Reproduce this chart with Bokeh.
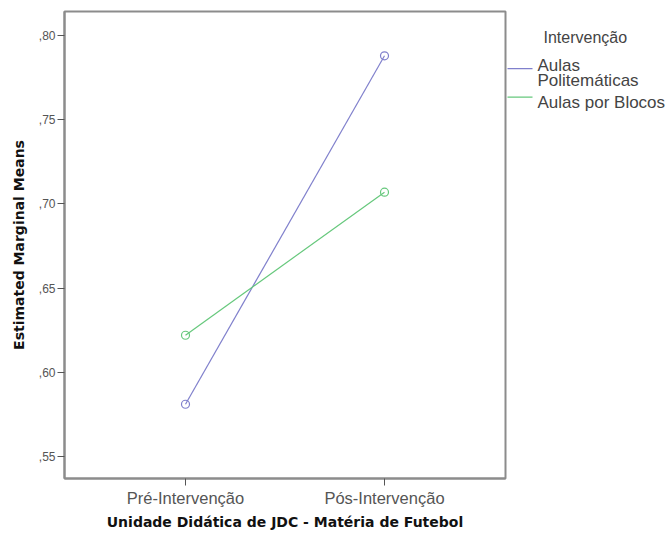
from bokeh.plotting import figure
from bokeh.models import Range1d, FixedTicker
from bokeh.layouts import row
from bokeh.core.properties import value
from bokeh.embed import file_html
from bokeh.resources import INLINE

categories = ["Pré-Intervenção", "Pós-Intervenção"]
politematicas = [0.581, 0.788]
blocos = [0.622, 0.707]
series_names = [["Aulas", "Politemáticas"], ["Aulas por Blocos"]]
series_colors = ["#8080cc", "#66c87c"]
y_ticks = [0.55, 0.60, 0.65, 0.70, 0.75, 0.80]
y_tick_labels = [",55", ",60", ",65", ",70", ",75", ",80"]
legend_title = "Intervenção"

H = 540
xs = list(range(len(categories)))

p = figure(width=507, height=H, output_backend="svg", toolbar_location=None,
           x_range=Range1d(-0.608, 1.608), y_range=Range1d(0.5369, 0.8143),
           min_border_left=64, min_border_top=11, min_border_right=2, min_border_bottom=62)
p.background_fill_color = "white"
p.border_fill_color = "white"
p.outline_line_color = "#8c8c8c"
p.outline_line_width = 2
p.xgrid.visible = False
p.ygrid.visible = False

for vals, col in zip([politematicas, blocos], series_colors):
    p.line(xs, vals, line_color=col, line_width=1.2)
    p.scatter(xs, vals, marker="circle", size=8, fill_color=None, line_color=col, line_width=1.2)

p.xaxis.ticker = FixedTicker(ticks=xs)
p.xaxis.major_label_overrides = {i: c for i, c in zip(xs, categories)}
p.yaxis.ticker = FixedTicker(ticks=y_ticks)
p.yaxis.major_label_overrides = {t: l for t, l in zip(y_ticks, y_tick_labels)}
for ax in (p.xaxis, p.yaxis):
    ax.axis_line_color = "#8c8c8c"
    ax.axis_line_width = 2
    ax.major_tick_line_color = "#555555"
    ax.major_tick_line_width = 1
    ax.major_tick_out = 7
    ax.major_tick_in = 0
    ax.minor_tick_line_color = None
    ax.major_label_text_font = "Liberation Sans"
    ax.major_label_text_color = "#555555"
    ax.axis_label_text_font = "DejaVu Sans"
    ax.axis_label_text_font_style = "bold"
    ax.axis_label_text_color = "#111111"
    ax.axis_label_text_font_size = "14px"
p.xaxis.major_label_text_font_size = "16.5px"
p.yaxis.major_label_text_font_size = "12px"
p.xaxis.major_label_standoff = 3
p.yaxis.major_label_standoff = 2
p.xaxis.axis_label = "Unidade Didática de JDC - Matéria de Futebol"
p.yaxis.axis_label = "Estimated Marginal Means"
p.xaxis.axis_label_standoff = 4
p.yaxis.axis_label_standoff = 9

# legend panel to the right of the frame (pixel coordinates, y downward)
lg = figure(width=160, height=H, output_backend="svg", toolbar_location=None,
            x_range=Range1d(0, 160), y_range=Range1d(H, 0),
            x_axis_location=None, y_axis_location=None,
            min_border_left=0, min_border_right=0, min_border_top=0, min_border_bottom=0)
lg.outline_line_color = None
lg.xgrid.visible = False
lg.ygrid.visible = False
lg.background_fill_color = "white"
lg.border_fill_color = "white"

lg.text([36], [30], text=[legend_title], text_font=value("Liberation Sans"),
        text_font_size="16px", text_color="#444444", text_baseline="middle")
line_y = [66, 99]
text_y = [[62, 80], [105]]
for names, col, ly, tys in zip(series_names, series_colors, line_y, text_y):
    lg.segment(x0=[-2], y0=[ly], x1=[25], y1=[ly], line_color=col, line_width=1.2)
    lg.text([30] * len(names), tys, text=names, text_font=value("Liberation Sans"),
            text_font_size="17px", text_color="#444444", text_baseline="middle")

layout = row(p, lg, spacing=0)
open("out.html", "w").write(file_html(layout, INLINE))
